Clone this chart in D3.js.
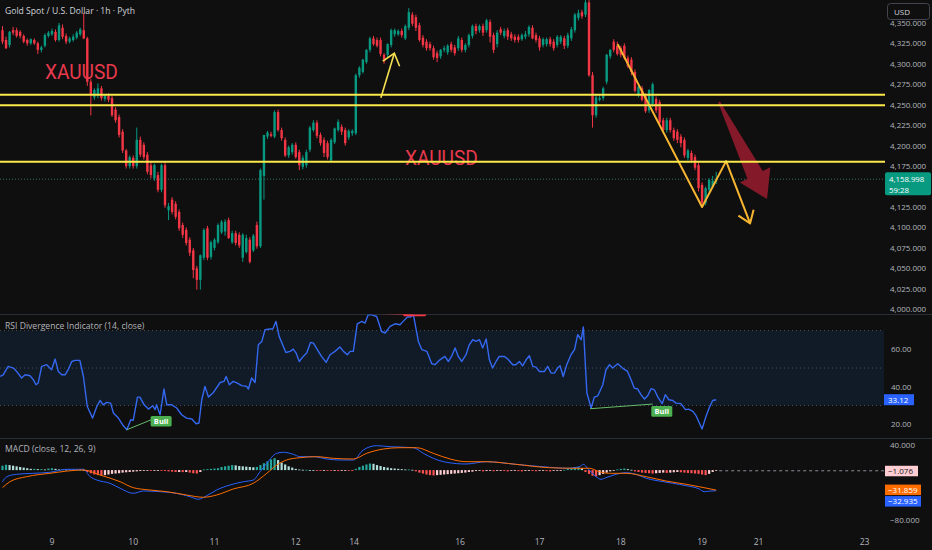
<!DOCTYPE html>
<html><head><meta charset="utf-8">
<script src="https://cdn.jsdelivr.net/npm/d3@7"></script>
<style>
html,body{margin:0;padding:0;background:#0f0f0f;overflow:hidden}
svg{display:block;font-family:"Open Sans","Noto Sans",sans-serif}
</style></head><body>
<svg id="c" width="932" height="550"></svg>
<script>
// ---------- DATA ----------
const opens = [4341,4329,4323,4341,4341,4339,4334,4329,4325,4329,
4325,4317,4322,4334,4336,4339,4329,4344,4334,4327,
4329,4332,4336,4341,4331,4278,4259,4262,4270,4257,
4261,4258,4244,4235,4217,4194,4175,4185,4175,4207,
4201,4189,4176,4160,4164,4146,4176,4121,4134,4129,
4119,4103,4097,4085,4072,4050,4036,4063,4099,4064,
4075,4082,4094,4095,4109,4082,4093,4091,4063,4070,
4085,4072,4103,4077,4163,4211,4214,4211,4241,4219,
4207,4188,4192,4201,4192,4174,4176,4195,4219,4228,
4213,4207,4203,4182,4204,4219,4223,4219,4210,4215,
4215,4286,4290,4302,4317,4331,4329,4329,4311,4311,
4323,4336,4336,4340,4331,4344,4360,4357,4347,4332,
4327,4324,4319,4313,4309,4317,4314,4324,4320,4319,
4329,4317,4323,4334,4346,4341,4346,4341,4351,4335,
4324,4342,4334,4341,4336,4333,4333,4330,4333,4336,
4344,4335,4331,4323,4324,4330,4327,4323,4327,4331,
4322,4331,4341,4356,4363,4360,4375,4286,4237,4256,
4258,4278,4309,4327,4322,4319,4322,4307,4305,4290,
4261,4270,4261,4243,4250,4257,4253,4231,4219,4231,
4219,4217,4211,4207,4185,4191,4186,4176,4152,4130,
4146,4150,4157];
const highs = [4346,4333,4340,4345,4344,4341,4336,4331,4331,4331,
4327,4322,4337,4340,4343,4342,4350,4348,4337,4333,
4336,4340,4344,4362,4333,4281,4270,4276,4273,4263,
4264,4261,4247,4238,4220,4196,4188,4188,4222,4211,
4204,4192,4180,4178,4168,4178,4179,4130,4137,4132,
4122,4106,4100,4088,4075,4053,4067,4099,4102,4084,
4087,4105,4109,4110,4112,4096,4096,4094,4093,4091,
4088,4092,4107,4172,4213,4218,4217,4243,4244,4222,
4210,4200,4203,4204,4195,4188,4195,4224,4231,4231,
4216,4210,4206,4209,4222,4232,4226,4222,4220,4220,
4288,4297,4306,4318,4333,4334,4332,4332,4313,4325,
4343,4343,4342,4343,4348,4368,4363,4360,4350,4335,
4330,4327,4322,4316,4318,4322,4324,4327,4323,4334,
4332,4325,4337,4348,4349,4348,4349,4355,4354,4338,
4341,4345,4343,4344,4339,4336,4336,4337,4340,4347,
4347,4338,4334,4332,4332,4333,4330,4335,4335,4334,
4338,4345,4362,4366,4366,4382,4380,4290,4262,4262,
4272,4312,4318,4330,4327,4322,4325,4310,4308,4293,
4275,4273,4264,4269,4277,4260,4256,4234,4234,4234,
4222,4220,4214,4210,4196,4194,4189,4179,4155,4150,
4160,4163,4168];
const lows = [4324,4318,4320,4335,4332,4331,4325,4322,4323,4323,
4312,4314,4320,4332,4334,4327,4327,4330,4324,4325,
4327,4330,4334,4330,4273,4237,4256,4258,4255,4254,
4253,4235,4228,4210,4191,4172,4172,4172,4172,4186,
4183,4165,4160,4157,4143,4143,4124,4109,4116,4110,
4096,4087,4078,4065,4038,4024,4024,4060,4060,4061,
4072,4080,4092,4090,4086,4080,4078,4075,4058,4068,
4056,4070,4074,4075,4134,4208,4210,4209,4217,4206,
4186,4185,4189,4184,4170,4171,4173,4192,4217,4209,
4200,4186,4183,4180,4202,4217,4213,4200,4207,4212,
4213,4283,4288,4300,4314,4322,4320,4309,4300,4308,
4320,4333,4334,4332,4329,4341,4346,4340,4327,4320,
4316,4316,4305,4302,4306,4314,4311,4314,4310,4316,
4314,4314,4320,4331,4336,4338,4334,4338,4326,4313,
4320,4335,4331,4329,4328,4326,4326,4328,4330,4333,
4330,4326,4316,4320,4321,4321,4316,4320,4324,4318,
4319,4328,4338,4353,4355,4357,4284,4222,4234,4254,
4255,4275,4306,4314,4310,4308,4305,4295,4286,4265,
4259,4254,4240,4240,4247,4240,4225,4216,4216,4216,
4206,4203,4198,4185,4182,4179,4170,4144,4125,4127,
4143,4148,4153];
const closes = [4327,4319,4339,4338,4334,4334,4327,4325,4330,4325,
4317,4320,4335,4338,4340,4329,4347,4333,4327,4331,
4333,4338,4342,4331,4278,4262,4268,4270,4258,4261,
4256,4237,4231,4213,4194,4175,4186,4175,4207,4189,
4186,4168,4164,4176,4146,4176,4127,4126,4119,4113,
4099,4091,4081,4069,4048,4036,4066,4097,4063,4082,
4085,4103,4107,4107,4087,4093,4081,4078,4091,4087,
4058,4090,4077,4170,4213,4216,4212,4241,4219,4209,
4188,4198,4201,4186,4176,4185,4192,4222,4228,4212,
4203,4191,4186,4207,4221,4229,4217,4203,4218,4218,
4286,4295,4305,4317,4331,4324,4322,4312,4303,4324,
4341,4341,4340,4335,4346,4363,4349,4344,4329,4323,
4319,4319,4308,4307,4317,4319,4322,4317,4313,4331,
4317,4323,4335,4346,4340,4346,4338,4353,4333,4317,
4338,4338,4340,4333,4331,4329,4329,4335,4336,4345,
4331,4329,4320,4330,4330,4324,4319,4333,4333,4322,
4335,4342,4360,4362,4358,4375,4286,4237,4259,4258,
4270,4311,4317,4317,4312,4311,4307,4297,4290,4267,
4272,4256,4242,4268,4275,4243,4228,4219,4231,4219,
4209,4207,4203,4188,4194,4182,4173,4148,4130,4148,
4158,4157,4158.998];

const priceTicks = [4000,4025,4050,4075,4100,4125,4150,4175,4200,4225,4250,4275,4300,4325,4350];
const levels = [4262.2, 4249.2, 4180.3];

const rsiIdx = [-0.7,0.2,1.6,3.1,4.0,5.4,6.4,7.8,8.7,9.5,10.1,11.1,12.5,13.9,14.9,15.8,16.8,17.7,18.6,19.6,20.5,21.9,22.9,24,25.5,26.7,27.6,28.5,29.5,30.6,31.4,32.8,34.2,35.2,36.3,37,38.2,38.9,40.1,41.3,42.5,43.2,43.6,44.6,45.7,46.5,47.9,49.3,50.7,52.1,53.6,54.8,55.6,56.4,57.3,58.3,59.7,61.6,62.7,63.3,64.2,65.3,66.5,67.7,69.1,69.6,70.5,71.5,72.4,73.4,74.3,75.7,76.5,77.4,78.3,80.2,81.4,82.3,83.1,84,85.1,86.1,87.2,88,89.4,90.3,91.6,92.7,94.1,95.5,96.5,97.6,98.4,99.3,100.4,101.7,102.6,103.5,104.5,105.9,107.3,108.3,109.7,111.1,112.5,113.4,114.6,115.5,116.3,117.7,118.7,120.1,121.5,122.4,123.8,125.2,126.2,127.1,128.1,129,130,131.2,132.1,133.1,134,135,135.9,136.9,137.8,138.7,139.7,140.6,142,143,144.4,145.3,146.3,147.2,148.2,149.1,150.1,151,151.9,153.4,154.3,155.3,156.2,157.1,157.8,158.7,159.7,160.9,161.9,162.8,163.8,164.4,165.4,166.6,167.5,168.5,169.9,170.8,171.8,172.7,174.1,175.5,176.9,177.9,178.8,179.8,180.7,181.7,182.6,183.6,184.5,185.5,186.7,187.6,188.6,189.7,190.6,192,193.3,194.2,195.4,196.3,198,199.1,200,201,202];
const rsiVal = [45.5,46.4,50.9,50,48.2,44.7,46.4,45.9,43.8,41.1,42,50.9,51.8,49.1,54.8,48.2,46.4,46.4,49.1,53.5,54.1,54.1,45.5,29.5,23.3,29.5,32.7,30.4,31.7,31.3,26,23.3,19.2,17.1,22.4,22.1,34.5,34.5,30.4,28.1,29.9,27.8,30.4,25.1,38.8,30.4,30.4,28.7,25.1,23.3,22.8,20.3,20.7,33.1,40.2,34.5,37,42.3,42.9,45.5,41.1,42.9,42,40.6,40.2,38.8,44.7,42.3,62.4,64.2,70.4,70.8,70.8,74.9,66.9,58.3,58.9,60.1,58,53.5,56.2,58,63.7,63.3,58.9,56.2,53,57.1,58.9,61.2,58.9,57.1,58.9,58.9,73.6,74.9,74,78.4,78.4,77.5,69.5,68.7,72.2,73.6,73.1,74.9,77.2,77.2,78.4,64.2,59.8,58.9,52.3,51.8,54.4,56.2,53.5,56.2,60.7,56.2,53.5,57.1,62.4,65.1,64.2,65.1,60.7,65.5,54.4,50,53.5,56.2,56.2,54.8,51.8,51.8,53.5,51.2,54.4,56.6,50.9,50.5,48.2,48.2,50.9,47.3,47.3,50,51.2,45.5,51.8,57.1,59.8,67.8,65.1,71.9,36.7,28.7,34.5,35.2,41.1,49.1,51.8,50,52.3,50,48.2,43.8,39.3,38.8,35.8,33.5,35.2,39,38.4,34.5,31,35.8,33.1,32.7,31.3,31,27.8,28.1,26.9,24.6,17.5,24.2,28.7,32.7,33.12];
const rsiTicks = [20,40,60];
const rsiLevels = [70,50,30];

const macdIdx = [0,1.2,4,8.7,13.4,18.2,22.9,24.8,26.7,30.4,33.3,37,39.9,44.6,49.3,53.1,55.4,57.8,60.6,64.4,68.2,71,72.9,74.8,77.6,79.5,82.3,84.2,88,91.8,95.5,99.3,102.1,105.9,109.7,116.3,119.1,121.9,125.7,131.2,136.9,145.3,154.8,159.5,163.3,164.4,165.6,168,169.4,170.8,173.7,176.5,179.3,182.2,185.9,189.7,193.5,197.2,198.6,200.5,202];
const macdVal = [-18.5,-10.5,-6.7,-5.1,-3.5,1.3,1.3,-10.5,-15.8,-21,-29,-37,-33.3,-34.4,-37,-42.4,-46.5,-40.8,-31.7,-23.7,-18.5,-15.8,-2.5,10.8,26.8,28.4,25.2,21.4,21.4,17.7,16.1,16.1,32,38.9,37.3,35.7,26.8,18.8,12.4,9.7,13.4,9.2,4.5,2.9,5.4,9.2,2.9,-10.5,-14.7,-12.1,-6.7,-4.1,-6.7,-13.1,-17.4,-21,-24.9,-30.1,-34.4,-33.3,-32.935];
const sigIdx = [0,2.1,6.8,13.4,22.9,27.6,33.3,37,41.7,46.5,52.1,56.8,60.6,65.3,71,74.8,77.6,80.4,84.2,88.9,93.6,99.3,103.1,107.8,112.5,117.2,121.9,126.7,131.2,136.9,145.3,154.8,162.3,166.1,168.9,171.8,176.5,182.2,187.8,193.5,197.2,202];
const sigVal = [-28,-18.5,-10.5,-5.1,0.2,-7.8,-18.5,-28,-31.7,-34.4,-39.7,-43.3,-39.7,-30.1,-21,-5.1,8.1,16.1,19.8,21.4,18.8,17.7,26.8,33.6,35.7,35.7,26.8,17.7,13.4,13.4,9.2,3.8,2.9,2.9,-2.5,-5.1,-5.1,-10.5,-17.4,-22.6,-26.5,-31.859];
const hist = [7,8.5,8,7,6,5,4,3,2,2,1.5,1.5,1,2.5,3,2,1,1,0.8,0.8,0.5,0.5,0.5,0.3,
-3,-5,-7,-8,-8.5,-8,-7,-6,-5.5,-5,-4,-3.5,-3,-2.5,
-2,-1.5,-1,-1,-1.2,-1,-0.6,-1,-1.5,-2,-2.5,-3,-3,-3.2,-3,-4,-5,-5.5,-3,
1,1.5,2,2.5,3,5,6,7,8,7.5,6.5,6,5.5,5,4.5,5,8,11,14,17,19,16,12,9,6,4,2,
1,0.5,0.5,0.2,0,-0.5,-1,-0.6,-1,-1.2,-1,-1.5,-1,-0.8,-1,-1.5,
2,5,7,9,10.5,10,8,6.5,5,4,3,2.5,2,1.5,1,1,0.5,
-2,-4,-5.5,-7,-8,-8.5,-8,-7.5,-7,-6.5,-6,-5.5,-5,-4.5,-4,-3,-2.5,
-1.5,-1,-2,-1.5,-1,-1.8,-1.2,-1,-1.5,-2,-1.2,-1,-1.6,-2,-1.4,-1,-1.5,-1.8,-1.2,-1,-1.6,-2,-1.3,-1,-0.5,0.5,
2,3,4,4.5,3,-3,-6,-9,-10,-8,-6,-4,-2,-1,1,2,2.5,1.5,0.5,
-2,-3,-4,-4.5,-5,-5.5,-5,-4.5,-4,-4.5,-4,-3.5,-3,-3.5,-4,-4.5,-5,-5.5,-6,
-7,-8,-6,-3,-1.076];
const macdTicks = [40,-80];

const dayIdx = [14,37,60,83,99.5,129.5,152,175,198,214,244];
const dayLbl = ['9','10','11','12','14','16','17','18','19','21','23'];

// annotations (in bar index / price units)
const zigzag = [[174.1,4324],[198,4125],[204.8,4181],[211.6,4105]];
const smallArrow = [[107.1,4258.5],[110.9,4312.8]];
const bigArrow = [[202.8,4253.3],[216.4,4134.7]];
const textMarks = [{t:'XAUUSD',i:12,p:4281.5},{t:'XAUUSD',i:113.9,p:4176.8}];
const bullLines = [[[35.2,17.1],[42.2,22.5]],[[166.3,28.3],[184,30.8]]];
const bullLabels = [[44.9,21.6],[186.6,26.9]];
const bearLine = [[105,79.4],[116.3,78.4]];

// ---------- SETUP ----------
const W=932,H=550, PR=884;
const svg=d3.select('#c');
svg.append('rect').attr('width',W).attr('height',H).attr('fill','#0f0f0f');
const defs=svg.append('defs');
function clip(id,x0,y0,w,h){defs.append('clipPath').attr('id',id).append('rect').attr('x',x0).attr('y',y0).attr('width',w).attr('height',h);}
clip('cm',0,0,PR,314);clip('cr',0,314.5,PR,123.5);clip('cd',0,438.5,PR,88.5);
clip('ca',884,19.5,48,294);

const x=d3.scaleLinear().domain([0,244]).range([2.5,864.6]);
const yP=d3.scaleLinear().domain([4000,4325]).range([309.3,43.3]);
const yR=d3.scaleLinear().domain([20,60]).range([424.3,349.3]);
const yM=d3.scaleLinear().domain([-80,40]).range([520.3,445]);
const axisCol='#b2b5be', up='#089981', dn='#f23645';

// separators
[314.5,438.5].forEach(y=>svg.append('line').attr('x1',0).attr('x2',W).attr('y1',y).attr('y2',y).attr('stroke','#2a2e39'));

// ---------- MAIN PANE ----------
const gm=svg.append('g').attr('clip-path','url(#cm)');
const last=closes[closes.length-1];
gm.append('line').attr('x1',0).attr('x2',PR).attr('y1',yP(last)).attr('y2',yP(last))
  .attr('stroke','#2f6f66').attr('stroke-dasharray','1,2');
const gl=svg.append('g');
levels.forEach(l=>gl.append('line').attr('x1',0).attr('x2',885).attr('y1',yP(l)).attr('y2',yP(l))
  .attr('stroke','#fbe94a').attr('stroke-width',2));
textMarks.forEach(m=>gm.append('text').attr('x',x(m.i)).attr('y',yP(m.p)).text(m.t)
  .attr('fill','#e8394d').attr('font-size',20).attr('textLength',73).attr('lengthAdjust','spacingAndGlyphs')
  .attr('font-family','Roboto, sans-serif'));
const cd=d3.range(closes.length).map(i=>({i,o:opens[i],h:highs[i],l:lows[i],c:closes[i]}));
const cg=gm.selectAll('g.cd').data(cd).join('g');
cg.append('line').attr('x1',d=>x(d.i)).attr('x2',d=>x(d.i)).attr('y1',d=>yP(d.h)).attr('y2',d=>yP(d.l))
  .attr('stroke',d=>d.c>=d.o?up:dn).attr('stroke-width',1);
cg.append('rect').attr('x',d=>x(d.i)-1.2).attr('width',2.4)
  .attr('y',d=>yP(Math.max(d.o,d.c))).attr('height',d=>Math.max(0.8,Math.abs(yP(d.o)-yP(d.c))))
  .attr('fill',d=>d.c>=d.o?up:dn);

function arrowHead(p0,p1,len,ang){
  const a=Math.atan2(p1[1]-p0[1],p1[0]-p0[0]);
  return [[p1[0]-len*Math.cos(a-ang),p1[1]-len*Math.sin(a-ang)],p1,[p1[0]-len*Math.cos(a+ang),p1[1]-len*Math.sin(a+ang)]];
}
const lineGen=d3.line();
const zz=zigzag.map(d=>[x(d[0]),yP(d[1])]);
gm.append('path').attr('d',lineGen(zz)).attr('fill','none').attr('stroke','#f7b531').attr('stroke-width',2).attr('stroke-linejoin','round');
gm.append('path').attr('d',lineGen(arrowHead(zz[2],zz[3],14,0.62))).attr('fill','none').attr('stroke','#f7b531').attr('stroke-width',2).attr('stroke-linejoin','round');
const sa=smallArrow.map(d=>[x(d[0]),yP(d[1])]);
gm.append('path').attr('d',lineGen(sa)).attr('fill','none').attr('stroke','#f5e050').attr('stroke-width',1.6);
gm.append('path').attr('d',lineGen(arrowHead(sa[0],sa[1],14,0.68))).attr('fill','none').attr('stroke','#f5e050').attr('stroke-width',1.6);
(function(){
  const T=[x(bigArrow[0][0]),yP(bigArrow[0][1])], P=[x(bigArrow[1][0]),yP(bigArrow[1][1])];
  const dx=P[0]-T[0],dy=P[1]-T[1],L=Math.hypot(dx,dy),u=[dx/L,dy/L],n=[-u[1],u[0]];
  const B=[P[0]-u[0]*27,P[1]-u[1]*27];
  const pt=(b,k)=>[b[0]+n[0]*k,b[1]+n[1]*k];
  const poly=[pt(T,1),pt(B,8.5),pt(B,17),P,pt(B,-17),pt(B,-8.5),pt(T,-1)];
  gm.append('path').attr('d',lineGen(poly)+'Z').attr('fill','#8b1a2b').attr('fill-opacity',0.95);
})();

// price axis (labels hidden under the last-price box are skipped, as on the reference)
const ly=yP(last);
const ga=svg.append('g').attr('font-size',8).attr('fill',axisCol).attr('clip-path','url(#ca)');
const fmtP=d3.format(',.3f');
priceTicks.filter(t=>Math.abs(yP(t)-(ly+4.5))>14).forEach(t=>ga.append('text').attr('x',890).attr('y',yP(t)+3).text(fmtP(t)));
svg.append('rect').attr('x',887.5).attr('y',3.5).attr('width',42).attr('height',16).attr('rx',3)
  .attr('fill','#0f0f0f').attr('stroke','#434651');
svg.append('text').attr('x',894).attr('y',14.5).text('USD').attr('font-size',8).attr('fill','#d1d4dc');
svg.append('rect').attr('x',885).attr('y',ly-7).attr('width',46).attr('height',23).attr('rx',2).attr('fill',up);
svg.append('text').attr('x',889).attr('y',ly+2.5).text(fmtP(last)).attr('font-size',7.8).attr('fill','#fff');
svg.append('text').attr('x',889).attr('y',ly+13.5).text('59:28').attr('font-size',7.8).attr('fill','#fff');
svg.append('text').attr('x',5).attr('y',13.5).text('Gold Spot / U.S. Dollar · 1h · Pyth')
  .attr('font-size',8.6).attr('fill','#d1d4dc');

// ---------- RSI PANE ----------
const gr=svg.append('g').attr('clip-path','url(#cr)');
gr.append('rect').attr('x',0).attr('width',PR).attr('y',yR(70)).attr('height',yR(30)-yR(70)).attr('fill','#111b27');
rsiLevels.forEach(l=>gr.append('line').attr('x1',0).attr('x2',PR).attr('y1',yR(l)).attr('y2',yR(l))
  .attr('stroke','#4a4d57').attr('stroke-dasharray','1,3'));
const rsiPts=rsiIdx.map((d,k)=>[x(d),yR(rsiVal[k])]);
gr.append('path').attr('d',d3.line()(rsiPts)).attr('fill','none').attr('stroke','#3468f0').attr('stroke-width',1.4).attr('stroke-linejoin','round');
bullLines.forEach(s=>gr.append('line').attr('x1',x(s[0][0])).attr('y1',yR(s[0][1])).attr('x2',x(s[1][0])).attr('y2',yR(s[1][1]))
  .attr('stroke','#66bb6a').attr('stroke-width',1));
bullLabels.forEach(b=>{
  gr.append('rect').attr('x',x(b[0])-10.5).attr('y',yR(b[1])-5.3).attr('width',21).attr('height',10.6).attr('rx',1.5).attr('fill','#4caf50');
  gr.append('text').attr('x',x(b[0])).attr('y',yR(b[1])+3).attr('text-anchor','middle').text('Bull')
    .attr('font-size',7.5).attr('font-weight','bold').attr('fill','#fff');
});
gr.append('line').attr('x1',x(bearLine[0][0])).attr('y1',yR(bearLine[0][1])).attr('x2',x(bearLine[1][0])).attr('y2',yR(bearLine[1][1]))
  .attr('stroke',dn).attr('stroke-width',1.4);
gr.append('rect').attr('x',x(113.4)).attr('width',x(119.9)-x(113.4)).attr('y',yR(86)).attr('height',yR(77.6)-yR(86)).attr('rx',1.5).attr('fill',dn);
svg.append('text').attr('x',5).attr('y',329).text('RSI Divergence Indicator (14, close)').attr('font-size',8.6).attr('fill','#b2b5be');
const fmtR=d3.format('.2f');
rsiTicks.forEach(t=>svg.append('text').attr('x',891).attr('y',yR(t)+3).text(fmtR(t)).attr('font-size',8).attr('fill',axisCol));
const rl=rsiVal[rsiVal.length-1];
svg.append('rect').attr('x',884).attr('y',yR(rl)-5.5).attr('width',30).attr('height',11).attr('fill','#2962ff');
svg.append('text').attr('x',888).attr('y',yR(rl)+3).text(fmtR(rl)).attr('font-size',8).attr('fill','#fff');

// ---------- MACD PANE ----------
const gd=svg.append('g').attr('clip-path','url(#cd)');
function hc(v,p){ if(v>=0) return v>=p?'#26a69a':'#b2dfdb'; return v<p?'#ff5252':'#ffcdd2'; }
gd.selectAll('rect.h').data(hist).join('rect')
  .attr('x',(d,i)=>x(i)-1.1).attr('width',2.2)
  .attr('y',d=>Math.min(yM(0),yM(d))).attr('height',d=>Math.max(0.8,Math.abs(yM(d)-yM(0))))
  .attr('fill',(d,i)=>hc(d,i>0?hist[i-1]:d));
const hl=hist[hist.length-1];
gd.append('line').attr('x1',x(hist.length-1)+3).attr('x2',PR).attr('y1',yM(hl)).attr('y2',yM(hl))
  .attr('stroke','#8a8d96').attr('stroke-dasharray','3,3');
const cl=d3.line().curve(d3.curveMonotoneX);
gd.append('path').attr('d',cl(macdIdx.map((d,k)=>[x(d),yM(macdVal[k])]))).attr('fill','none').attr('stroke','#2962ff').attr('stroke-width',1);
gd.append('path').attr('d',cl(sigIdx.map((d,k)=>[x(d),yM(sigVal[k])]))).attr('fill','none').attr('stroke','#ff6d00').attr('stroke-width',1);
svg.append('text').attr('x',5).attr('y',452).text('MACD (close, 12, 26, 9)').attr('font-size',8.6).attr('fill','#b2b5be');
const fmtM=v=>d3.format('.3f')(v).replace('-','\u2212');
macdTicks.forEach(t=>svg.append('text').attr('x',890).attr('y',yM(t)+3).text(fmtM(t)).attr('font-size',8).attr('fill',axisCol));
const ml=macdVal[macdVal.length-1], sl=sigVal[sigVal.length-1];
function vbox(y,val,fill,tc,w){
  svg.append('rect').attr('x',885).attr('y',y-5).attr('width',w).attr('height',10.5).attr('fill',fill);
  svg.append('text').attr('x',888).attr('y',y+3).text(fmtM(val)).attr('font-size',8).attr('fill',tc);
}
vbox(yM(hl),hl,'#ffcdd2','#131722',33);
vbox(yM(sl)-0.5,sl,'#ff6d00','#fff',36);
vbox(yM(sl)+11,ml,'#2962ff','#fff',36);

// ---------- TIME AXIS ----------
dayIdx.forEach((d,k)=>svg.append('text').attr('x',x(d)).attr('y',544.5).attr('text-anchor','middle')
  .text(dayLbl[k]).attr('font-size',8.6).attr('fill',axisCol));
</script>
</body></html>
